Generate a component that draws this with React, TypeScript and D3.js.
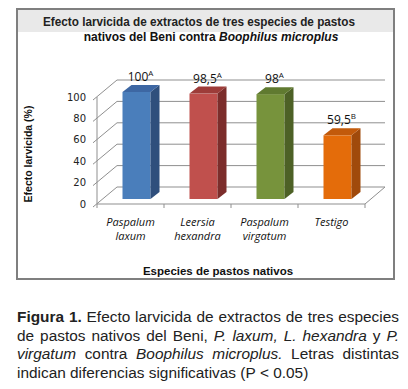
import * as d3 from "d3"

const categories: string[][] = [
  ["Paspalum", "laxum"],
  ["Leersia", "hexandra"],
  ["Paspalum", "virgatum"],
  ["Testigo"],
]
const values = [100, 98.5, 98, 59.5]
const valueLabels = ["100", "98,5", "98", "59,5"]
const letters = ["A", "A", "A", "B"]
const yTicks = [0, 20, 40, 60, 80, 100]

const colors = [
  { front: "#4a7ebb", side: "#2f4f7c", top: "#3d67a3" },
  { front: "#c0504d", side: "#7c2d2b", top: "#9d3c39" },
  { front: "#77933c", side: "#4d6126", top: "#607a30" },
  { front: "#e46c0a", side: "#a04a0b", top: "#c25a0b" },
]

// caption: words as [text, style] where b = bold, i = italic
const captionLines: [string, string][][] = [
  [["Figura", "b"], ["1.", "b"], ["Efecto", ""], ["larvicida", ""], ["de", ""], ["extractos", ""], ["de", ""], ["tres", ""], ["especies", ""]],
  [["de", ""], ["pastos", ""], ["nativos", ""], ["del", ""], ["Beni,", ""], ["P.", "i"], ["laxum,", "i"], ["L.", "i"], ["hexandra", "i"], ["y", ""], ["P.", "i"]],
  [["virgatum", "i"], ["contra", ""], ["Boophilus", "i"], ["microplus.", "i"], ["Letras", ""], ["distintas", ""]],
  [["indican", ""], ["diferencias", ""], ["significativas", ""], ["(P", ""], ["<", ""], ["0.05)", ""]],
]

// 3d offsets
const WALL_DX = 20
const WALL_DY = -17
const BAR_X = 6
const BAR_Y = -5
const BAR_DX = 9
const BAR_DY = -7
const BAR_W = 28

const GRID = "#8f8f8f"
const SANS = "'Liberation Sans', Arial, sans-serif"
const CAP_SIZE = 15.4

function layoutCaption() {
  const ctx = document.createElement("canvas").getContext("2d")!
  const font = (s: string) =>
    `${s.includes("i") ? "italic " : ""}${s.includes("b") ? "bold " : ""}${CAP_SIZE}px "Liberation Sans"`
  const space = (() => {
    ctx.font = font("")
    return ctx.measureText(" ").width
  })()
  return captionLines.map((words, li) => {
    const widths = words.map(([w, s]) => {
      ctx.font = font(s)
      return ctx.measureText(w).width
    })
    const total = d3.sum(widths)
    const last = li === captionLines.length - 1
    const gap = last ? space : (382 - total) / (words.length - 1)
    let cx = 17
    return words.map(([w, s], k) => {
      const pos = cx
      cx += widths[k] + gap
      return { w, s, x: pos }
    })
  })
}

export default function App() {
  const x = d3
    .scaleBand<number>()
    .domain(values.map((_, i) => i))
    .range([97, 365])
  const y = d3.scaleLinear().domain([0, 100]).range([204, 97])

  const x0 = x.range()[0]
  const x1 = x.range()[1]
  const caption = layoutCaption()

  return (
    <svg
      width={408}
      height={389}
      style={{ position: "absolute", left: 0, top: 0, background: "#fff" }}
    >
      {/* chart frame */}
      <rect x={17} y={9} width={377} height={270} fill="#fff" stroke="#7f7f7f" strokeWidth={2} />
      <rect x={18} y={10} width={375} height={22} fill="#e9e9e9" />
      <text
        x={199}
        y={26}
        textAnchor="middle"
        fontFamily={SANS}
        fontWeight="bold"
        fontSize={12}
        textLength={312}
        lengthAdjust="spacingAndGlyphs"
        fill="#222"
      >
        Efecto larvicida de extractos de tres especies de pastos
      </text>
      <text x={211} y={41} textAnchor="middle" fontFamily={SANS} fontWeight="bold" fontSize={12} fill="#111">
        nativos del Beni contra <tspan fontStyle="italic">Boophilus microplus</tspan>
      </text>

      {/* back wall gridlines + side wall diagonals */}
      {yTicks.map((t) => (
        <g key={t} stroke={GRID} strokeWidth={1} fill="none">
          <line x1={x0 + WALL_DX} x2={x1 + WALL_DX} y1={y(t) + WALL_DY} y2={y(t) + WALL_DY} />
          <line x1={x0 - 4} x2={x0 + WALL_DX} y1={y(t) + 3} y2={y(t) + WALL_DY} />
        </g>
      ))}
      {/* floor */}
      <g stroke={GRID} strokeWidth={1} fill="none">
        <line x1={x0} x2={x1} y1={y(0)} y2={y(0)} />
        <line x1={x1} x2={x1 + WALL_DX} y1={y(0)} y2={y(0) + WALL_DY} />
        <line x1={x0} x2={x0} y1={y(0)} y2={y(100)} />
        {values.map((_, i) => (
          <line key={i} x1={x(i)!} x2={x(i)!} y1={y(0)} y2={y(0) + 4} />
        ))}
        <line x1={x1} x2={x1} y1={y(0)} y2={y(0) + 4} />
      </g>

      {/* y tick labels */}
      {yTicks.map((t) => (
        <text
          key={t}
          x={86}
          y={y(t)}
          dy="0.35em"
          textAnchor="end"
          fontFamily="'DejaVu Sans', sans-serif"
          fontSize={10}
          fill="#222"
        >
          {t}
        </text>
      ))}

      {/* bars */}
      {values.map((v, i) => {
        const bx = x(i)! + x.bandwidth() / 2 + BAR_X - BAR_W / 2
        const by0 = y(0) + BAR_Y
        const byt = y(v) + BAR_Y
        const c = colors[i]
        const r = bx + BAR_W
        return (
          <g key={i}>
            <rect x={bx} y={byt} width={BAR_W} height={by0 - byt} fill={c.front} />
            <path
              d={`M${r},${byt}L${r + BAR_DX},${byt + BAR_DY}L${r + BAR_DX},${by0 + BAR_DY}L${r},${by0}Z`}
              fill={c.side}
            />
            <path
              d={`M${bx},${byt}L${bx + BAR_DX},${byt + BAR_DY}L${r + BAR_DX},${byt + BAR_DY}L${r},${byt}Z`}
              fill={c.top}
            />
            <text
              x={bx + BAR_W / 2 + 4}
              y={y(v) - 16}
              textAnchor="middle"
              fontFamily="'Open Sans', sans-serif"
              fontSize={12}
              fill="#111"
            >
              {valueLabels[i]}
              <tspan fontSize={8} dy={-5}>
                {letters[i]}
              </tspan>
            </text>
          </g>
        )
      })}

      {/* category labels */}
      {categories.map((lines, i) => (
        <text
          key={i}
          x={x(i)! + x.bandwidth() / 2}
          y={226}
          textAnchor="middle"
          fontFamily="'Open Sans', sans-serif"
          fontStyle="italic"
          fontSize={11}
          fill="#111"
        >
          {lines.map((l, j) => (
            <tspan key={j} x={x(i)! + x.bandwidth() / 2} dy={j === 0 ? 0 : 14}>
              {l}
            </tspan>
          ))}
        </text>
      ))}

      {/* axis titles */}
      <text
        transform="translate(32,154) rotate(-90)"
        textAnchor="middle"
        fontFamily={SANS}
        fontWeight="bold"
        fontSize={10.5}
        fill="#111"
      >
        Efecto larvicida (%)
      </text>
      <text x={218} y={275} textAnchor="middle" fontFamily={SANS} fontWeight="bold" fontSize={11.5} fill="#111">
        Especies de pastos nativos
      </text>

      {/* caption, justified word by word */}
      <g fontFamily={SANS} fontSize={CAP_SIZE} fill="#222">
        {caption.map((line, li) =>
          line.map((wd, k) => (
            <text
              key={`${li}-${k}`}
              x={wd.x}
              y={322 + li * 18.5}
              fontWeight={wd.s.includes("b") ? "bold" : "normal"}
              fontStyle={wd.s.includes("i") ? "italic" : "normal"}
            >
              {wd.w}
            </text>
          )),
        )}
      </g>
    </svg>
  )
}
